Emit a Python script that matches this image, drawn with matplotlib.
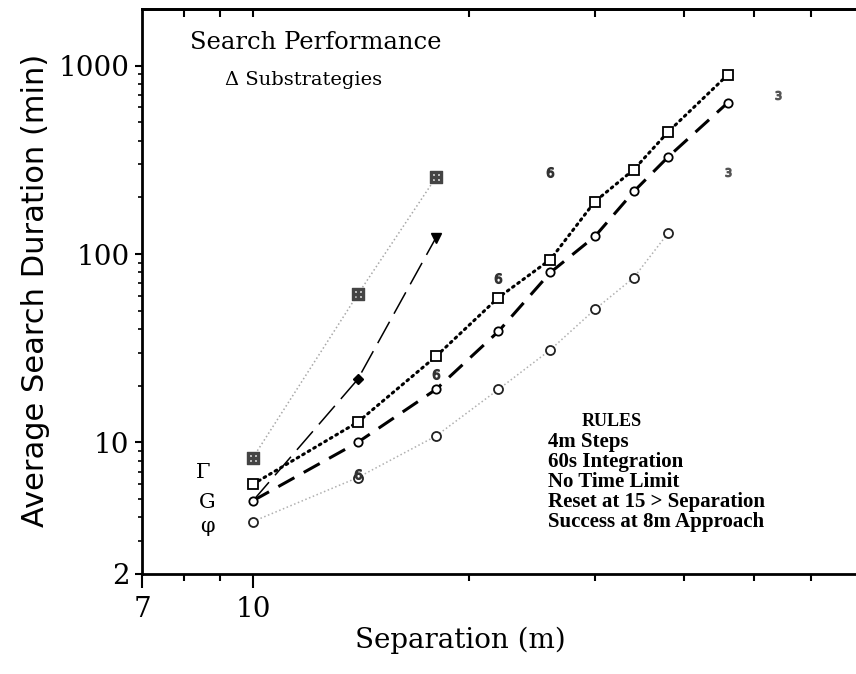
import matplotlib
matplotlib.use('Agg')
import matplotlib.pyplot as plt
from matplotlib.ticker import FixedLocator, FixedFormatter, NullFormatter

# ---- data ----
sep_sq = [10, 14, 18, 22, 26, 30, 34, 38, 46]
dur_sq = [6.0, 12.8, 28.6, 58.7, 93.5, 190, 281, 447, 896]

sep_ci = [10, 14, 18, 22, 26, 30, 34, 38, 46]
dur_ci = [4.9, 10.0, 19.1, 38.8, 79.8, 124, 215, 329, 637]

sep_di = [10, 14, 18]
dur_di = [4.9, 21.6, 122]

sep_bx = [10, 14, 18]
dur_bx = [8.3, 61, 255]

sep_six = [14, 18, 22, 26]
dur_six = [6.8, 23, 75, 274]

sep_phi = [10, 14, 18, 22, 26, 30, 34, 38]
dur_phi = [3.8, 6.5, 10.8, 19.1, 31, 50.8, 75, 130]

sep_ext = [46, 54]
dur_ext = [274, 702]

x_major = [7, 10]
x_major_labels = ['7', '10']
x_minor = [8, 9, 20, 30, 40, 50, 60]
y_major = [2, 10, 100, 1000]
y_major_labels = ['2', '10', '100', '1000']
y_minor = [3, 4, 5, 6, 7, 8, 9, 20, 30, 40, 50, 60, 70, 80, 90,
           200, 300, 400, 500, 600, 700, 800, 900]

rules = ['4m Steps', '60s Integration', 'No Time Limit',
         'Reset at 15 > Separation', 'Success at 8m Approach']

W, H = 856, 674
fig = plt.figure(figsize=(W / 100, H / 100), dpi=100)
ax = fig.add_axes([142 / W, 1 - 574 / H, 716.6 / W, 565 / H])
ax.set_xscale('log')
ax.set_yscale('log')
ax.set_xlim(7, 70)
ax.set_ylim(2, 2000)

for s in ax.spines.values():
    s.set_linewidth(2.0)

ax.xaxis.set_major_locator(FixedLocator(x_major))
ax.xaxis.set_major_formatter(FixedFormatter(x_major_labels))
ax.xaxis.set_minor_locator(FixedLocator(x_minor))
ax.xaxis.set_minor_formatter(NullFormatter())
ax.yaxis.set_major_locator(FixedLocator(y_major))
ax.yaxis.set_major_formatter(FixedFormatter(y_major_labels))
ax.yaxis.set_minor_locator(FixedLocator(y_minor))
ax.yaxis.set_minor_formatter(NullFormatter())

ax.tick_params(axis='x', which='major', direction='out', length=10, width=1.5,
               pad=6, labelsize=20)
ax.tick_params(axis='x', which='minor', direction='out', length=5, width=1.5)
ax.tick_params(axis='y', which='major', direction='out', length=5, width=1.5,
               pad=4, labelsize=20)
ax.tick_params(axis='y', which='minor', direction='out', length=3, width=1.2)
for lab in ax.get_xticklabels() + ax.get_yticklabels():
    lab.set_family('DejaVu Serif')

sec = ax.secondary_xaxis('top')
sec.xaxis.set_major_locator(FixedLocator([8, 9, 10, 20, 30, 40, 50, 60]))
sec.xaxis.set_major_formatter(NullFormatter())
sec.xaxis.set_minor_locator(FixedLocator([]))
sec.tick_params(direction='in', length=6, width=1.5)
sec.spines['top'].set_linewidth(2.0)

# faint substrategies
ax.plot(sep_bx, dur_bx, linestyle=':', color='#a8a8a8', lw=1.1)
ax.plot(sep_bx, dur_bx, linestyle='none', marker='$⊞$', color='#444444',
        markersize=8)
ax.plot(sep_phi, dur_phi, linestyle=':', color='#b0b0b0', lw=1.1)
ax.plot(sep_phi, dur_phi, linestyle='none', marker='o', mfc='white',
        mec='#222222', mew=1.3, markersize=6.5)
ax.plot(sep_six, dur_six, linestyle='none', marker='$6$', color='#333333',
        markersize=7)
ax.plot(sep_ext, dur_ext, linestyle='none', marker='$3$', color='#555555',
        markersize=6)

# diamond long-dash thin line
ax.plot(sep_di, dur_di, color='black', lw=1.1, dashes=(16, 6))
ax.plot(sep_di[1:2], dur_di[1:2], linestyle='none', marker='D', color='black',
        markersize=5)
ax.plot(sep_di[2:], dur_di[2:], linestyle='none', marker='v', color='black',
        markersize=7)

# main series
ax.plot(sep_sq, dur_sq, color='black', lw=2.2, linestyle=(0, (0.6, 1.5)),
        dash_capstyle='round', marker='s', mfc='white', mec='black',
        mew=1.3, markersize=6.5)
ax.plot(sep_ci, dur_ci, color='black', lw=2.2, dashes=(6, 3.5),
        marker='o', mfc='white', mec='black', mew=1.3, markersize=6)


def fx(px):
    return px / W


def fy(py):
    return 1 - py / H


fig.text(fx(190), fy(49), 'Search Performance', family='DejaVu Serif',
         fontsize=17.5, va='baseline', ha='left')
fig.text(fx(225), fy(85), 'Δ Substrategies', family='DejaVu Serif',
         fontsize=14, va='baseline', ha='left')

fig.text(fx(203), fy(473), 'Γ', family='DejaVu Serif', fontsize=15,
         ha='center', va='center')
fig.text(fx(207), fy(503), 'G', family='DejaVu Serif', fontsize=15,
         ha='center', va='center')
fig.text(fx(207), fy(527), 'φ', family='DejaVu Serif', fontsize=15,
         ha='center', va='center')

fig.text(fx(612), fy(422), 'RULES', family='Liberation Serif',
         fontweight='bold', fontsize=13, ha='center', va='center')
for i, r in enumerate(rules):
    fig.text(fx(548), fy(442 + 20 * i), r, family='Liberation Serif',
             fontweight='bold', fontsize=15, ha='left', va='center')

fig.text(fx(36), fy(290), 'Average Search Duration (min)',
         family='DejaVu Sans', fontsize=22, rotation=90,
         ha='center', va='center')
fig.text(fx(460), fy(640), 'Separation (m)', family='DejaVu Serif',
         fontsize=20, ha='center', va='center')

fig.savefig('out.png', dpi=100)
